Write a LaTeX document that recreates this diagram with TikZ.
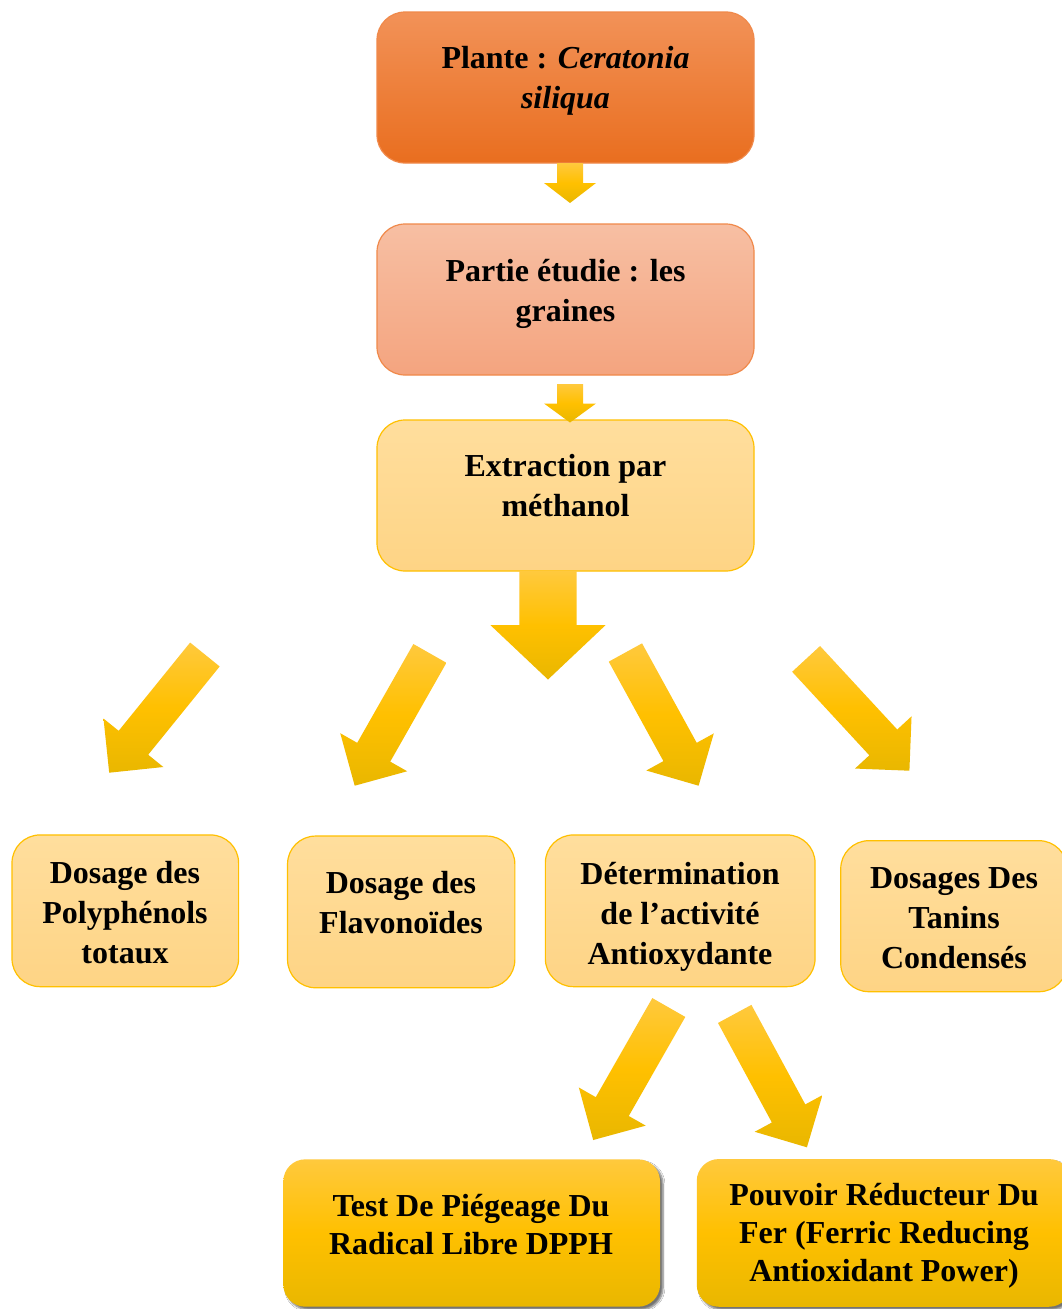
\documentclass[tikz,border=0pt]{standalone}
\usepackage{fontspec}
\setmainfont{Liberation Serif}
\usetikzlibrary{calc,shadows.blur}

\definecolor{orangeTop}{HTML}{F29258}
\definecolor{orangeBot}{HTML}{E96E1F}
\definecolor{orangeLine}{HTML}{F0894A}
\definecolor{salmonTop}{HTML}{F7BFA3}
\definecolor{salmonBot}{HTML}{F4A47F}
\definecolor{paleTop}{HTML}{FFDE9D}
\definecolor{paleBot}{HTML}{FED485}
\definecolor{gold}{HTML}{FFC000}
\definecolor{goldTop}{HTML}{FFC93D}
\definecolor{goldBot}{HTML}{E9B700}

% block arrow: #1 tail, #2 tip, #3 shaft half-width, #4 head half-width, #5 head length
\newcommand\blockarrow[5]{%
  \coordinate (#1-base) at ($(#2)!#5!(#1)$);
  \shade[top color=goldTop, bottom color=goldBot, middle color=gold]
    ($(#1)!#3!90:(#2)$) -- ($(#1-base)!#3!90:(#2)$) -- ($(#1-base)!#4!90:(#2)$)
    -- (#2) -- ($(#1-base)!#4!-90:(#2)$) -- ($(#1-base)!#3!-90:(#2)$)
    -- ($(#1)!#3!-90:(#2)$) -- cycle;
}

\tikzset{
  boxbase/.style={rectangle, rounded corners=28pt, line width=1.2pt, inner sep=0pt},
  plantebox/.style={boxbase, draw=orangeLine, top color=orangeTop, bottom color=orangeBot},
  partiebox/.style={boxbase, draw=orangeLine, top color=salmonTop, bottom color=salmonBot},
  palebox/.style={boxbase, draw=gold, top color=paleTop, bottom color=paleBot},
  goldbox/.style={boxbase, rounded corners=22pt, draw=none,
    top color=goldTop, bottom color=goldBot, middle color=gold,
    blur shadow={shadow xshift=3pt, shadow yshift=-3pt, shadow opacity=55, shadow blur steps=6}},
  lbl/.style={align=center, inner sep=0pt, font=\bfseries\fontsize{32}{40}\selectfont},
  lblb/.style={align=center, inner sep=0pt, font=\bfseries\fontsize{32}{38}\selectfont},
}

\begin{document}
\begin{tikzpicture}[x=1pt, y=-1pt]
\useasboundingbox[fill=white] (0,0) rectangle (1062,1309);

% main chain
\node[plantebox, minimum width=377pt, minimum height=151pt] (plante) at (565.5,87.5) {};
\node[lbl] (plante-t) at (565.5,81) {Plante : \textit{Ceratonia}\\\textit{siliqua}};

\node[partiebox, minimum width=377pt, minimum height=151pt] (partie) at (565.5,299.5) {};
\node[lbl] (partie-t) at (565.5,294) {Partie étudie : les\\graines};

\node[palebox, minimum width=377pt, minimum height=151pt] (extraction) at (565.5,495.5) {};
\node[lbl] (extraction-t) at (565.5,486) {Extraction par\\méthanol};

% analyses
\node[palebox, minimum width=226.6pt, minimum height=151.7pt] (poly) at (125.3,910.8) {};
\node[lbl] (poly-t) at (125,913) {Dosage des\\Polyphénols\\totaux};

\node[palebox, minimum width=227.3pt, minimum height=151.7pt] (flavo) at (401.2,911.9) {};
\node[lbl] (flavo-t) at (401,903) {Dosage des\\Flavonoïdes};

\node[palebox, minimum width=269.7pt, minimum height=151.7pt] (deter) at (680.2,910.8) {};
\node[lbl] (deter-t) at (680,917) {Détermination\\de l’activité\\Antioxydante};

\node[palebox, minimum width=226.3pt, minimum height=151pt] (tanins) at (953.9,916.2) {};
\node[lbl] (tanins-t) at (954,918.5) {Dosages Des\\Tanins\\Condensés};

% antioxidant tests
\node[goldbox, minimum width=376.7pt, minimum height=147.4pt] (dpph) at (471.7,1233) {};
\node[lblb] (dpph-t) at (471,1224.5) {Test De Piégeage Du\\Radical Libre DPPH};

\node[goldbox, minimum width=374.3pt, minimum height=147.7pt] (frap) at (883.9,1232.9) {};
\node[lblb] (frap-t) at (884,1235.5) {Pouvoir Réducteur Du\\Fer (Ferric Reducing\\Antioxidant Power)};

% arrow ends
\coordinate (a1t) at (570,163);     \coordinate (a1p) at (570,203);
\coordinate (a2t) at (570,384);     \coordinate (a2p) at (570,422.5);
\coordinate (a3t) at (548,571);     \coordinate (a3p) at (548,679.5);
\coordinate (d1t) at (204.9,654.5); \coordinate (d1p) at (109.2,772.7);
\coordinate (d2t) at (429.9,653.4); \coordinate (d2p) at (354.7,785.7);
\coordinate (d3t) at (625.4,652.5); \coordinate (d3p) at (698.6,785.7);
\coordinate (d4t) at (806.1,658.9); \coordinate (d4p) at (909.4,770.7);
\coordinate (d5t) at (668.8,1007.5); \coordinate (d5p) at (593.2,1140);
\coordinate (d6t) at (734.7,1013.9); \coordinate (d6p) at (806.9,1147.3);

\blockarrow{a1t}{a1p}{13pt}{26pt}{20pt}
\blockarrow{a2t}{a2p}{13pt}{26pt}{19pt}
\blockarrow{a3t}{a3p}{28.7pt}{57.7pt}{54.5pt}
\blockarrow{d1t}{d1p}{19pt}{38.5pt}{38.5pt}
\blockarrow{d2t}{d2p}{19pt}{38.5pt}{38.5pt}
\blockarrow{d3t}{d3p}{19pt}{38.5pt}{38.5pt}
\blockarrow{d4t}{d4p}{19pt}{38.5pt}{38.5pt}
\blockarrow{d5t}{d5p}{19pt}{38.5pt}{38.5pt}
\blockarrow{d6t}{d6p}{19pt}{38.5pt}{38.5pt}
\end{tikzpicture}
\end{document}
